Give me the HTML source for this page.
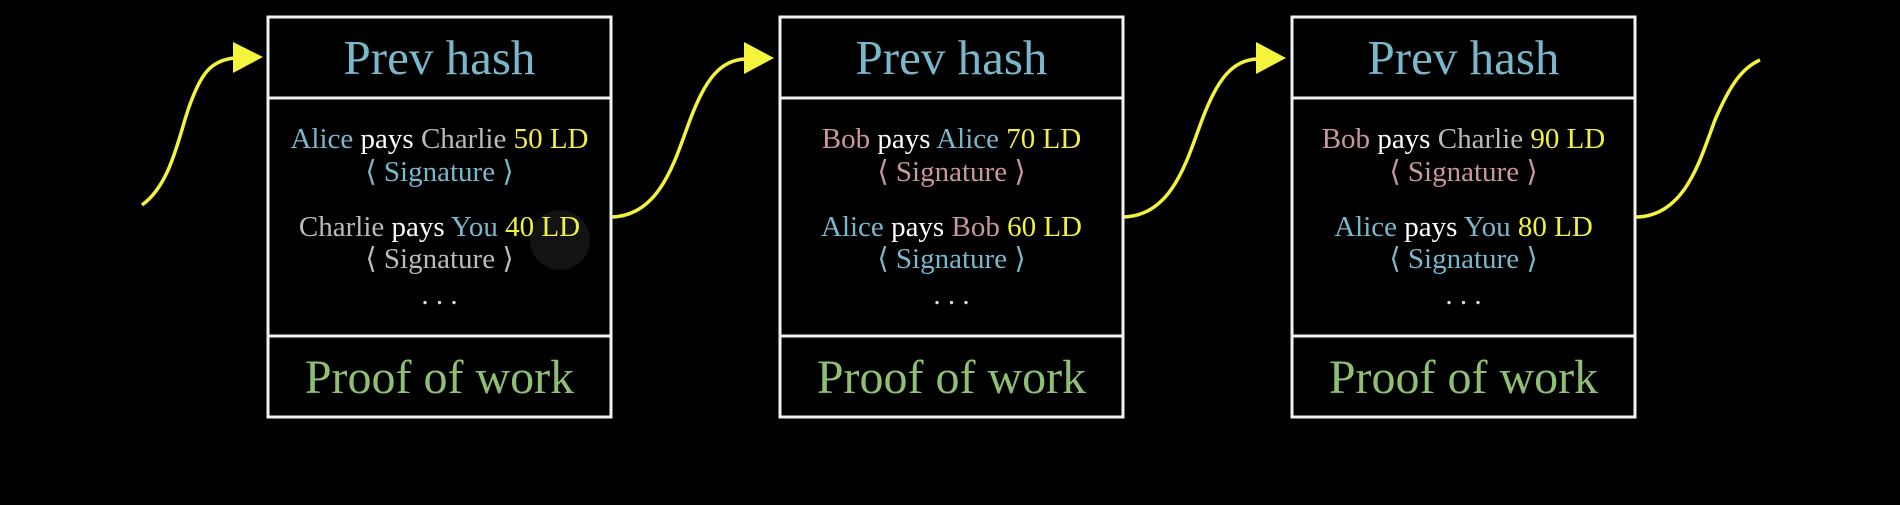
<!DOCTYPE html>
<html><head><meta charset="utf-8"><style>
html,body{margin:0;padding:0;background:#000;width:1900px;height:505px;overflow:hidden}
svg text{font-family:"Liberation Serif",serif}
</style></head><body>
<svg width="1900" height="505" viewBox="0 0 1900 505" xmlns="http://www.w3.org/2000/svg">
<rect width="1900" height="505" fill="#000"/>
<defs>
<g id="box" fill="none" stroke="#f2f2f2" stroke-width="3">
<rect x="0" y="0" width="343" height="400"/>
<line x1="0" y1="81" x2="343" y2="81"/>
<line x1="0" y1="319" x2="343" y2="319"/>
</g>
</defs>
<g fill="none" stroke="#f4f43c" stroke-width="3.5">
<path d="M142,205 C170,185 178,140 188,110 C200,75 210,60 235,58"/>
<path d="M610,217 C660,217 675,160 690,120 C705,80 720,60 745,59"/>
<path d="M1122,217 C1172,217 1187,160 1202,120 C1217,80 1232,60 1257,59"/>
<path d="M1635,217 C1685,217 1700,160 1715,120 C1730,85 1742,68 1760,60"/>
</g>
<g fill="#f4f43c">
<polygon points="233,42 263,57 233,73"/>
<polygon points="744,42 774,58 744,74"/>
<polygon points="1256,42 1286,58 1256,74"/>
</g>

<use href="#box" x="268" y="17"/>
<use href="#box" x="780" y="17"/>
<use href="#box" x="1292" y="17"/>

<circle cx="560" cy="240" r="30" fill="#999" opacity="0.12"/>

<g font-size="49" text-anchor="middle">
<text x="439.5" y="74" fill="#79b8cc">Prev hash</text>
<text x="951.5" y="74" fill="#79b8cc">Prev hash</text>
<text x="1463.5" y="74" fill="#79b8cc">Prev hash</text>
</g>
<g font-size="48" text-anchor="middle">
<text x="439.5" y="393" fill="#8fbf74">Proof of work</text>
<text x="951.5" y="393" fill="#8fbf74">Proof of work</text>
<text x="1463.5" y="393" fill="#8fbf74">Proof of work</text>
</g>

<g font-size="29" text-anchor="middle">
<text x="439.5" y="148"><tspan fill="#79b8cc">Alice</tspan><tspan fill="#fff"> pays </tspan><tspan fill="#bbb">Charlie</tspan><tspan fill="#f0f040"> 50 LD</tspan></text>
<text x="439.5" y="181" fill="#79b8cc">⟨ Signature ⟩</text>
<text x="439.5" y="236"><tspan fill="#bbb">Charlie</tspan><tspan fill="#fff"> pays </tspan><tspan fill="#79b8cc">You</tspan><tspan fill="#f0f040"> 40 LD</tspan></text>
<text x="439.5" y="268" fill="#bbb">⟨ Signature ⟩</text>
<text x="439.5" y="304" fill="#ddd">. . .</text>

<text x="951.5" y="148"><tspan fill="#c9979f">Bob</tspan><tspan fill="#fff"> pays </tspan><tspan fill="#79b8cc">Alice</tspan><tspan fill="#f0f040"> 70 LD</tspan></text>
<text x="951.5" y="181" fill="#c9979f">⟨ Signature ⟩</text>
<text x="951.5" y="236"><tspan fill="#79b8cc">Alice</tspan><tspan fill="#fff"> pays </tspan><tspan fill="#c9979f">Bob</tspan><tspan fill="#f0f040"> 60 LD</tspan></text>
<text x="951.5" y="268" fill="#79b8cc">⟨ Signature ⟩</text>
<text x="951.5" y="304" fill="#ddd">. . .</text>

<text x="1463.5" y="148"><tspan fill="#c9979f">Bob</tspan><tspan fill="#fff"> pays </tspan><tspan fill="#bbb">Charlie</tspan><tspan fill="#f0f040"> 90 LD</tspan></text>
<text x="1463.5" y="181" fill="#c9979f">⟨ Signature ⟩</text>
<text x="1463.5" y="236"><tspan fill="#79b8cc">Alice</tspan><tspan fill="#fff"> pays </tspan><tspan fill="#79b8cc">You</tspan><tspan fill="#f0f040"> 80 LD</tspan></text>
<text x="1463.5" y="268" fill="#79b8cc">⟨ Signature ⟩</text>
<text x="1463.5" y="304" fill="#ddd">. . .</text>
</g>
</svg>
</body></html>
